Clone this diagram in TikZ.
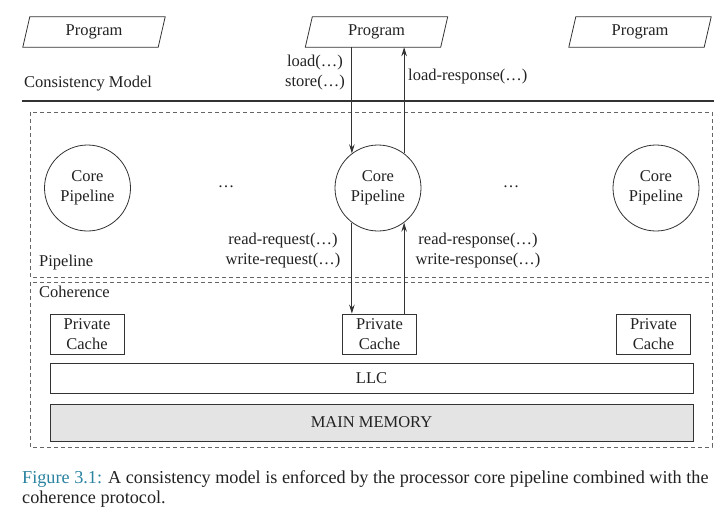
\documentclass[tikz,border=0pt]{standalone}
\usepackage{fontspec}
\setmainfont{Liberation Serif}
\usetikzlibrary{arrows.meta}
\definecolor{ln}{HTML}{333333}
\definecolor{txt}{HTML}{222222}
\definecolor{mem}{HTML}{E4E4E4}
\definecolor{figblue}{RGB}{40,130,160}
\begin{document}
\begin{tikzpicture}[x=1pt,y=-1pt,
  every node/.style={font=\fontsize{16.5}{20}\selectfont, text=txt},
  progbox/.style={rectangle, minimum width=135pt, minimum height=30pt, inner sep=0pt},
  core/.style={circle, draw=ln, line width=0.8pt, minimum size=86pt, inner sep=0pt, align=center},
  cachebox/.style={rectangle, draw=ln, line width=0.8pt, minimum width=74pt, minimum height=40pt, inner sep=0pt, align=center},
  widebox/.style={rectangle, draw=ln, line width=0.8pt, minimum width=643pt, inner sep=0pt},
  region/.style={draw=gray!80!black, line width=0.7pt, dash pattern=on 4pt off 3pt},
  arr/.style={draw=ln, line width=1pt, -{Stealth[length=9pt,width=5.5pt]}},
  lbl/.style={inner sep=0pt, align=center}
]
\useasboundingbox (0,0) rectangle (720,512);
% Program parallelograms
\foreach \n/\x in {p1/94, p2/376.5, p3/640} {
  \node[progbox] (\n) at (\x,32) {Program};
  \draw[ln, line width=0.8pt] ([xshift=-3.5pt]\n.south west) -- ([xshift=3.5pt]\n.north west)
     -- ([xshift=3.5pt]\n.north east) -- ([xshift=-3.5pt]\n.south east) -- cycle;
}
% consistency model line
\coordinate (cmL) at (22,101);
\coordinate (cmR) at (714,101);
\draw[ln, line width=1.8pt] (cmL) -- (cmR);
\node[lbl, anchor=west] (cm) at (24,84) {Consistency Model};
% dashed regions
\draw[region] (30,112) rectangle (712,277);
\draw[region] (30,282) rectangle (712,447);
\node[lbl, anchor=west] (pl) at (39,263) {Pipeline};
\node[lbl, anchor=west] (coh) at (39,292) {Coherence};
% cores
\node[core] (c1) at (87.5,188) {Core\\Pipeline};
\node[core] (c2) at (378,188) {Core\\Pipeline};
\node[core] (c3) at (656,188) {Core\\Pipeline};
\node[lbl] (d1) at (226,187) {\dots};
\node[lbl] (d2) at (511,187) {\dots};
% caches
\node[cachebox] (k1) at (87,334) {Private\\Cache};
\node[cachebox] (k2) at (379.5,334) {Private\\Cache};
\node[cachebox] (k3) at (653.5,334) {Private\\Cache};
\node[widebox, minimum height=30pt] (llc) at (371.5,378) {LLC};
\node[widebox, minimum height=37pt, fill=mem] (mm) at (371.5,422.5) {MAIN MEMORY};
% arrows
\draw[arr] (p2.south -| c2.127) -- (c2.127);
\draw[arr] (c2.53) -- (p2.south -| c2.53);
\draw[arr] (c2.233) -- (k2.north -| c2.233);
\draw[arr] (k2.north -| c2.307) -- (c2.307);
% labels
\node[lbl] (ls) at (315,73) {load(\dots)\\store(\dots)};
\node[lbl, anchor=west] (lr) at (408,77) {load-response(\dots)};
\node[lbl] (rq) at (283,251) {read-request(\dots)\\write-request(\dots)};
\node[lbl] (rs) at (478,251) {read-response(\dots)\\write-response(\dots)};
% caption
\node[lbl, anchor=north west, align=left, font=\fontsize{18.2}{20.5}\selectfont] (cap) at (22,470)
  {\textcolor{figblue}{Figure 3.1:} A consistency model is enforced by the processor core pipeline combined with the\\coherence protocol.};
\end{tikzpicture}
\end{document}
